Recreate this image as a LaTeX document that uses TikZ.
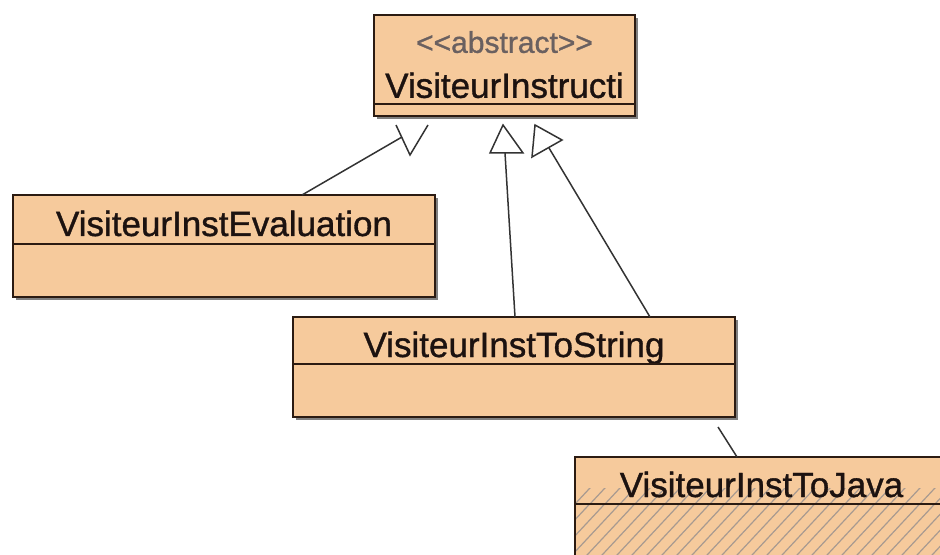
\documentclass[tikz,border=0pt]{standalone}
\usepackage{fontspec}
\setmainfont[FakeBold=1]{Liberation Sans}
\usetikzlibrary{positioning,shadows}
\definecolor{classfill}{HTML}{F6CA9C}
\definecolor{classline}{HTML}{2B1B12}
\definecolor{classtext}{HTML}{1C1210}
\definecolor{stereo}{HTML}{6A6060}
\definecolor{hatchcol}{HTML}{A89A90}
\definecolor{genedge}{HTML}{333333}
\tikzset{
  cls/.style={draw=classline, fill=classfill, line width=1pt, inner sep=0pt,
    outer sep=0pt, text=classtext, font=\fontsize{17.5}{22.5}\selectfont,
    general shadow={fill=black!50, shadow xshift=1.5pt, shadow yshift=-1.5pt}},
  classname/.style={cls, text height=16.5pt, text depth=0pt},
  genline/.style={draw=genedge, line width=0.75pt},
  hatched/.style={path picture={
      \clip (path picture bounding box.south west) rectangle ([yshift=#1]path picture bounding box.south east);
      \foreach \k in {0,...,35}
        \draw[hatchcol, line width=0.6pt] ([xshift={\k*7.5pt-60pt}]path picture bounding box.south west) -- ++(70pt,75pt);
    }},
}

\begin{document}
\begin{tikzpicture}[x=0.5pt, y=-0.5pt]
  \useasboundingbox (0,0) rectangle (940,555);
  \clip (0,0) rectangle (940,555);

  % abstract visitor
  \node[cls, minimum width=130.5pt, minimum height=44.5pt, align=center] (instr) at (504.5,59.5)
    {\rule{0pt}{16pt}{\fontsize{15}{15}\selectfont\color{stereo}<{}<abstract>{}>}\\VisiteurInstructi};
  \node[cls, minimum width=130.5pt, minimum height=6pt, below=0pt of instr] (instrbody) {};

  % concrete visitors
  \node[classname, minimum width=211pt, minimum height=24.5pt] (eval) at (224,219.5) {VisiteurInstEvaluation};
  \node[cls, minimum width=211pt, minimum height=26.5pt, below=0pt of eval] (evalbody) {};

  \node[classname, minimum width=221pt, minimum height=23.5pt] (tostr) at (514,340.5) {VisiteurInstToString};
  \node[cls, minimum width=221pt, minimum height=26.5pt, below=0pt of tostr] (tostrbody) {};

  \node[classname, minimum width=186.5pt, minimum height=23.5pt, hatched=8pt] (tojava) at (761.5,480.5) {VisiteurInstToJava};
  \node[cls, minimum width=186.5pt, minimum height=40pt, hatched=100pt, below=0pt of tojava] (tojavabody) {};

  % inheritance heads
  \coordinate (evaltip) at (402,137);
  \coordinate (strtip) at (505,153);
  \coordinate (javatip) at (549,148);
  \draw[genline] (396,125) -- (410,155) -- (428,125);
  \draw[genline] (503,125) -- (490,153) -- (523,153) -- cycle;
  \draw[genline] (535,125) -- (562,140) -- (532,157) -- cycle;

  \draw[genline] ([xshift=39pt]eval.north) -- (evaltip);
  \draw[genline] ([xshift=0.5pt]tostr.north) -- (strtip);
  \draw[genline] ([xshift=68pt]tostr.north) -- (javatip);
  \draw[genline] ([xshift=102pt, yshift=-5pt]tostrbody.south) -- ([xshift=-12.25pt]tojava.north);
\end{tikzpicture}
\end{document}
